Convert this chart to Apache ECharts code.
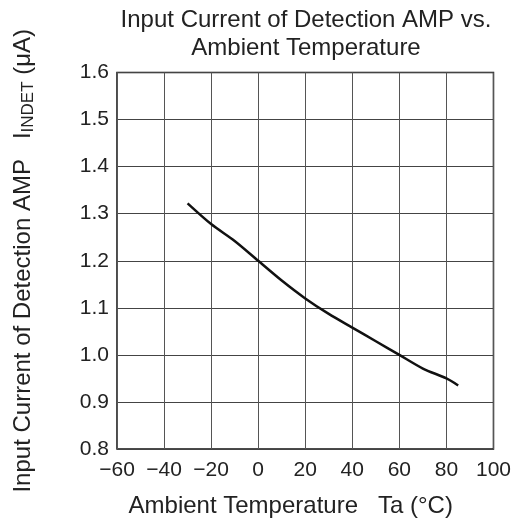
<!DOCTYPE html>
<html><head><meta charset="utf-8">
<script src="https://cdn.jsdelivr.net/npm/echarts@6/dist/echarts.min.js"></script>
<style>html,body{margin:0;padding:0;background:#fff}#c{width:514px;height:526px}</style>
</head><body><div id="c"></div>
<script>
const temps = [-30, -20, -10, 0, 10, 20, 30, 40, 50, 60, 70, 80, 85];
const current = [1.322, 1.278, 1.242, 1.2, 1.158, 1.12, 1.087, 1.058, 1.029, 1.0, 0.971, 0.950, 0.935];
const xTicks = { min: -60, max: 100, interval: 20 };
const yTicks = { min: 0.8, max: 1.6, interval: 0.1 };

const font = '"Liberation Sans", Arial, sans-serif';
const chart = echarts.init(document.getElementById('c'), null, { renderer: 'canvas' });
chart.setOption({
  animation: false,
  backgroundColor: '#fff',
  title: {
    text: 'Input Current of Detection AMP vs.\nAmbient Temperature',
    left: 306, top: 6, padding: 0, textAlign: 'center',
    textStyle: { fontFamily: font, fontSize: 24, fontWeight: 'normal', color: '#222', lineHeight: 28 }
  },
  grid: { left: 117, right: 19, top: 72.5, bottom: 77, show: true, borderColor: '#111', borderWidth: 1.5 },
  xAxis: {
    type: 'value', min: xTicks.min, max: xTicks.max, interval: xTicks.interval,
    name: 'Ambient Temperature   Ta (°C)', nameLocation: 'middle', nameGap: 45,
    nameTextStyle: { fontFamily: font, fontSize: 24, color: '#222', padding: [0, 29, 0, 0] },
    axisLine: { show: false }, axisTick: { show: false },
    axisLabel: { fontFamily: font, fontSize: 21, color: '#222', margin: 11,
      formatter: v => (v < 0 ? '\u2212' + Math.abs(v) : String(v)) },
    splitLine: { show: true, lineStyle: { color: '#555', width: 1 } }
  },
  yAxis: {
    type: 'value', min: yTicks.min, max: yTicks.max, interval: yTicks.interval,
    name: '{m|Input Current of Detection AMP   I}{s|INDET}{m| (\u03bcA)}',
    nameLocation: 'middle', nameGap: 80,
    nameTextStyle: { fontFamily: font, fontSize: 24, color: '#222',
      rich: {
        m: { fontFamily: font, fontSize: 24, color: '#222', lineHeight: 28 },
        s: { fontFamily: font, fontSize: 17, color: '#222', lineHeight: 16, verticalAlign: 'bottom' }
      }
    },
    axisLine: { show: false }, axisTick: { show: false },
    axisLabel: { fontFamily: font, fontSize: 21, color: '#222', margin: 8,
      formatter: v => v.toFixed(1) },
    splitLine: { show: true, lineStyle: { color: '#444', width: 1 } }
  },
  series: [{
    type: 'line',
    data: temps.map((t, i) => [t, current[i]]),
    smooth: 0.3,
    symbol: 'none',
    lineStyle: { color: '#111', width: 2.5 }
  }]
});
</script></body></html>
